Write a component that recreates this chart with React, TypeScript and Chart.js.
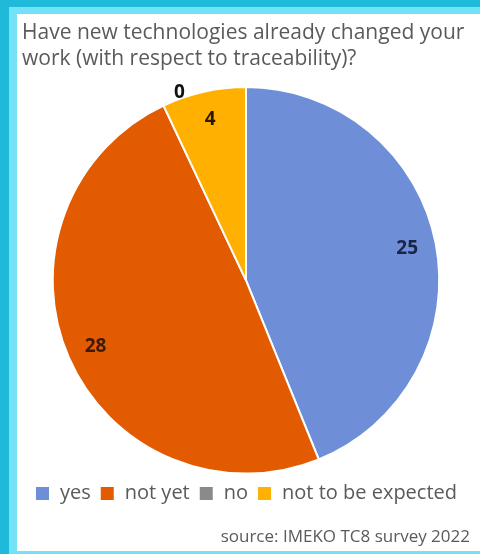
import React, { useEffect, useRef } from "react";
import { Chart, registerables } from "chart.js";

Chart.register(...registerables);

const titleLines = ["Have new technologies already changed your", "work (with respect to traceability)?"];
const categories = ["yes", "not yet", "no", "not to be expected"];
const counts = [25, 28, 0, 4];
const sliceColors = ["#6E8FD8", "#E35B00", "#8A8A8A", "#FFB000"];
const sourceText = "source: IMEKO TC8 survey 2022";

const FONT = "'Open Sans', 'Liberation Sans', sans-serif";

const labelPlugin = {
  id: "sliceLabels",
  afterDatasetsDraw(chart: any) {
    const ctx = chart.ctx;
    const meta = chart.getDatasetMeta(0);
    const data = chart.data.datasets[0].data as number[];
    ctx.save();
    ctx.font = `bold 19px ${FONT}`;
    ctx.textAlign = "center";
    ctx.textBaseline = "middle";
    meta.data.forEach((arc: any, i: number) => {
      const p = arc.getProps(["x", "y", "startAngle", "endAngle", "outerRadius"], true);
      const v = data[i];
      let a = (p.startAngle + p.endAngle) / 2;
      let r = p.outerRadius * 0.85;
      if (v === 0) {
        a = a + 0.1;
        r = p.outerRadius + 6;
      }
      ctx.fillStyle = i === 1 ? "#3a1a0a" : i === 0 ? "#1a2444" : "#2a1a00";
      if (v === 0) ctx.fillStyle = "#111111";
      ctx.fillText(String(v), p.x + Math.cos(a) * r, p.y + Math.sin(a) * r);
    });
    ctx.restore();
  },
};

export default function App() {
  const ref = useRef<HTMLCanvasElement | null>(null);
  useEffect(() => {
    if (!ref.current) return;
    const chart = new Chart(ref.current, {
      type: "pie",
      data: {
        labels: categories,
        datasets: [
          {
            data: counts,
            backgroundColor: sliceColors,
            borderColor: "#ffffff",
            borderWidth: 2,
          },
        ],
      },
      options: {
        animation: false,
        responsive: false,
        maintainAspectRatio: false,
        layout: { padding: { left: 5, right: 10, top: 0, bottom: 0 } },
        plugins: {
          title: {
            display: true,
            text: titleLines,
            align: "start",
            color: "#5a5a5a",
            font: { family: FONT, size: 21, weight: "normal", lineHeight: 1.24 },
            padding: { top: 6, bottom: 14 },
          },
          subtitle: {
            display: true,
            position: "bottom",
            text: sourceText,
            align: "end",
            color: "#5a5a5a",
            font: { family: FONT, size: 17, weight: "normal" },
            padding: { top: 13, bottom: 4 },
          },
          legend: {
            display: true,
            position: "bottom",
            labels: {
              boxWidth: 15,
              boxHeight: 15,
              padding: 9,
              color: "#5a5a5a",
              font: { family: FONT, size: 20 },
            },
          },
          tooltip: { enabled: false },
        },
      },
      plugins: [labelPlugin],
    });
    return () => chart.destroy();
  }, []);

  return (
    <div
      style={{
        position: "fixed",
        left: 0,
        top: 0,
        width: 480,
        height: 554,
        background: "#1FBAD9",
        overflow: "hidden",
      }}
    >
      <div
        style={{
          position: "absolute",
          left: 9,
          top: 7,
          width: 471,
          height: 547,
          background: "#74E2F6",
        }}
      >
        <div
          style={{
            position: "absolute",
            left: 8,
            top: 7,
            width: 463,
            height: 537,
            background: "#ffffff",
          }}
        >
          <canvas ref={ref} width={463} height={537} style={{ display: "block" }} />
        </div>
      </div>
    </div>
  );
}
